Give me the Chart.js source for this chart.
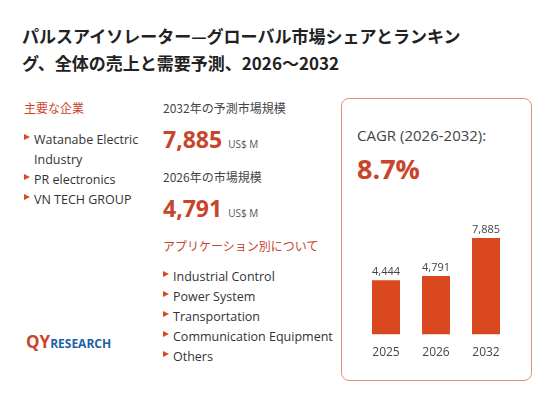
<!DOCTYPE html>
<html><head><meta charset="utf-8">
<script src="https://cdn.jsdelivr.net/npm/chart.js@4"></script>
<style>
body{margin:0;width:557px;height:400px;background:#fff;font-family:"Open Sans","Noto Sans CJK JP",sans-serif;position:relative;overflow:hidden;color:#333}
.a{position:absolute;white-space:nowrap}
.title{left:22px;top:22px;font-size:17px;font-weight:bold;line-height:27px;color:#222;font-family:"Noto Sans CJK JP",sans-serif}
.lab{font-size:12px;font-family:"Noto Sans CJK JP",sans-serif;color:#444}
.lab.red{color:#c8452b}
.big{font-size:23px;font-weight:bold;color:#c8452b}
.unit{font-size:10px;font-weight:normal;color:#555}
ul{list-style:none;margin:0;padding:0}
li{font-size:12.5px;line-height:20px;padding-left:10px;position:relative;color:#333}
li:before{content:"";position:absolute;left:0;top:4px;border-left:6px solid #d9481f;border-top:3px solid transparent;border-bottom:3px solid transparent}
.box{left:341px;top:98px;width:191px;height:283px;border:1.5px solid #e0907c;border-radius:8px;box-sizing:border-box}
</style></head><body>
<div class="a title">パルスアイソレーター—グローバル市場シェアとランキン<br>グ、全体の売上と需要予測、2026～2032</div>
<div class="a lab red" style="left:24px;top:99px">主要な企業</div>
<ul class="a" style="left:24px;top:130px">
<li>Watanabe Electric<br>Industry</li><li>PR electronics</li><li>VN TECH GROUP</li></ul>
<div class="a lab" style="left:163px;top:99px">2032年の予測市場規模</div>
<div class="a big" style="left:163px;top:123px">7,885 <span class="unit">US$ M</span></div>
<div class="a lab" style="left:163px;top:168px">2026年の市場規模</div>
<div class="a big" style="left:163px;top:192px">4,791 <span class="unit">US$ M</span></div>
<div class="a lab red" style="left:163px;top:237px">アプリケーション別について</div>
<ul class="a" style="left:163px;top:267px">
<li>Industrial Control</li><li>Power System</li><li>Transportation</li><li>Communication Equipment</li><li>Others</li></ul>
<div class="a" style="left:26px;top:330px;font-size:17px;font-weight:bold;color:#c8452b">QY<span style="font-size:12px;color:#1f5fa8">RESEARCH</span></div>
<div class="a box"></div>
<div class="a" style="left:357px;top:125px;font-size:15px;color:#444">CAGR (2026-2032):</div>
<div class="a" style="left:357px;top:150px;font-size:27px;font-weight:bold;color:#c8452b">8.7%</div>
<div class="a" style="left:356px;top:203px;width:170px;height:160px"><canvas id="c"></canvas></div>
<script>
const years = ["2025", "2026", "2032"];
const sizes = [4444, 4791, 7885];
const topLabels = {
  id: "topLabels",
  afterDatasetsDraw(chart) {
    const { ctx } = chart;
    ctx.save();
    ctx.font = "11px 'Open Sans'";
    ctx.fillStyle = "#444";
    ctx.textAlign = "center";
    chart.getDatasetMeta(0).data.forEach((bar, i) => {
      ctx.fillText(sizes[i].toLocaleString("en-US"), bar.x, bar.y - 5);
    });
    ctx.restore();
  }
};
new Chart(document.getElementById("c"), {
  type: "bar",
  data: { labels: years, datasets: [{ data: sizes, backgroundColor: "#d9481f", barPercentage: 0.56, categoryPercentage: 1 }] },
  options: {
    responsive: true, maintainAspectRatio: false, animation: false,
    layout: { padding: { left: 5, right: 15 } },
    plugins: { legend: { display: false }, tooltip: { enabled: false } },
    scales: {
      x: { grid: { display: false }, border: { display: false }, ticks: { color: "#444", font: { size: 12, family: "Open Sans" } } },
      y: { display: false, min: 0, max: 10750 }
    }
  },
  plugins: [topLabels]
});
</script>
</body></html>
